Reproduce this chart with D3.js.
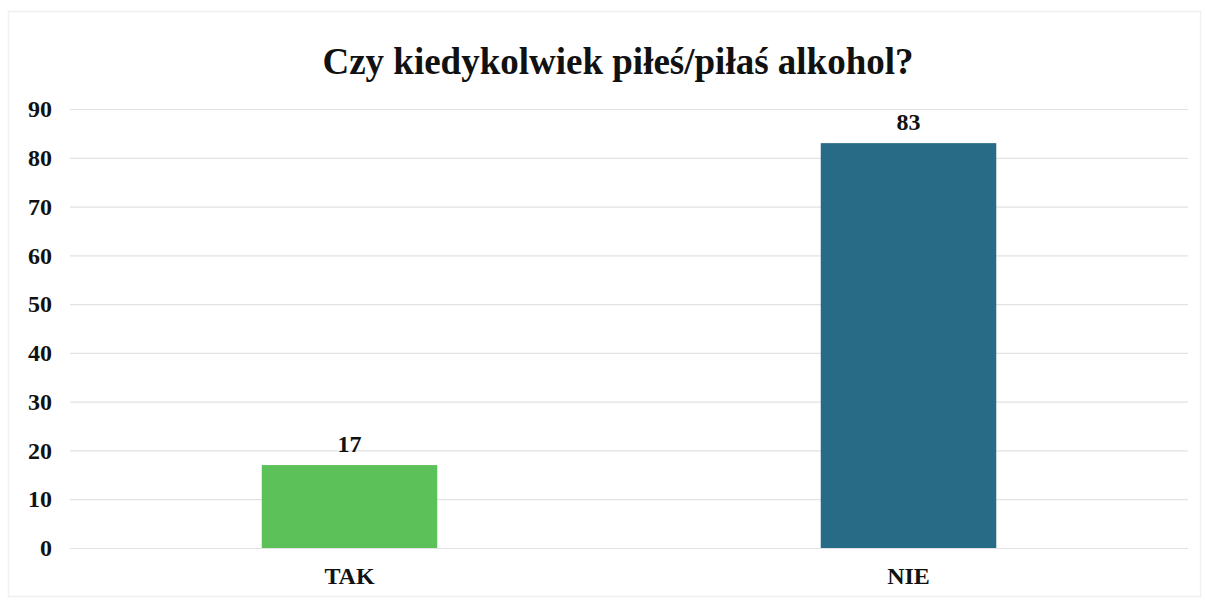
<!DOCTYPE html>
<html><head><meta charset="utf-8">
<script src="https://cdn.jsdelivr.net/npm/d3@7"></script>
<style>body{margin:0;background:#fff}svg{display:block}</style>
</head><body>
<svg id="c" width="1205" height="601"></svg>
<script>
const categories = ["TAK", "NIE"];
const values = [17, 83];
const yTicks = [0, 10, 20, 30, 40, 50, 60, 70, 80, 90];
const colors = ["#5cc158", "#276b86"];
const title = "Czy kiedykolwiek piłeś/piłaś alkohol?";

const svg = d3.select("#c");
const font = "'Liberation Serif','Times New Roman',serif";
const m = {left: 70, right: 1188, top: 109, bottom: 548};

svg.append("rect").attr("x", 8.5).attr("y", 11.5).attr("width", 1192).attr("height", 585)
  .attr("fill", "none").attr("stroke", "#f0f0f3").attr("stroke-width", 1.5);

const x = d3.scaleBand().domain(categories).range([m.left, m.right]).padding(0);
const y = d3.scaleLinear().domain([0, 90]).range([m.bottom, m.top]);

const yAxis = svg.append("g").attr("transform", `translate(${m.left},0)`)
  .call(d3.axisLeft(y).tickValues(yTicks).tickSize(-(m.right - m.left)).tickPadding(18));
yAxis.select(".domain").remove();
yAxis.selectAll(".tick line").attr("stroke", "#e2e2e6").attr("stroke-width", 1.2);
yAxis.selectAll(".tick text").attr("font-family", font).attr("font-weight", "bold")
  .attr("font-size", 24).attr("fill", "#111");

const bw = x.bandwidth() * 0.314;
svg.selectAll("rect.bar").data(values).join("rect").attr("class", "bar")
  .attr("x", (d, i) => x(categories[i]) + x.bandwidth() / 2 - bw / 2)
  .attr("y", d => y(d)).attr("width", bw).attr("height", d => y(0) - y(d))
  .attr("fill", (d, i) => colors[i]);

svg.selectAll("text.val").data(values).join("text").attr("class", "val")
  .attr("x", (d, i) => x(categories[i]) + x.bandwidth() / 2)
  .attr("y", d => y(d) - 13).attr("text-anchor", "middle")
  .attr("font-family", font).attr("font-weight", "bold").attr("font-size", 24).attr("fill", "#111")
  .text(d => d);

const xAxis = svg.append("g").attr("transform", `translate(0,${m.bottom})`)
  .call(d3.axisBottom(x).tickSize(0).tickPadding(0));
xAxis.select(".domain").remove();
xAxis.selectAll(".tick text").attr("font-family", font).attr("font-weight", "bold")
  .attr("font-size", 24).attr("fill", "#111").attr("dy", null).attr("y", 36);

svg.append("text").attr("x", 618).attr("y", 74).attr("text-anchor", "middle")
  .attr("font-family", font).attr("font-weight", "bold").attr("font-size", 37).attr("fill", "#111")
  .text(title);
</script>
</body></html>
